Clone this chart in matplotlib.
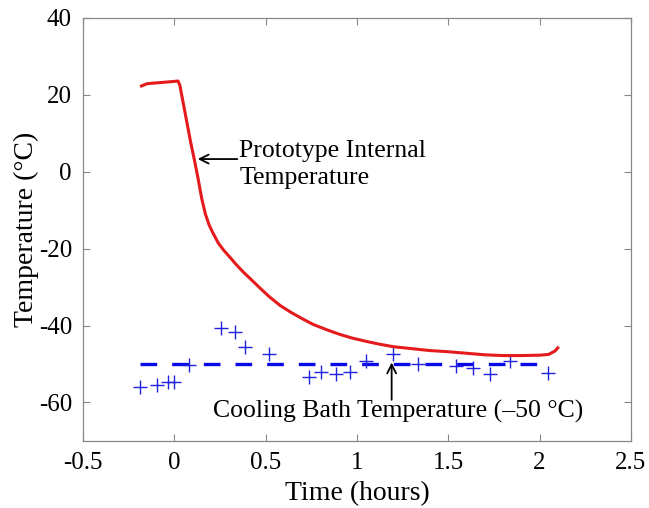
import matplotlib
matplotlib.use('Agg')
import numpy as np
import matplotlib.pyplot as plt

plt.rcParams['font.family'] = ['Liberation Serif', 'DejaVu Serif']
plt.rcParams['axes.unicode_minus'] = False

# prototype internal temperature (red curve)
t_proto = [-0.18, -0.15, -0.1, -0.05, 0.0, 0.02, 0.03, 0.05, 0.07, 0.09,
           0.11, 0.13, 0.15, 0.17, 0.19, 0.21, 0.24, 0.27, 0.30, 0.34,
           0.38, 0.42, 0.47, 0.52, 0.58, 0.64, 0.70, 0.76, 0.83, 0.90,
           0.97, 1.05, 1.13, 1.2, 1.3, 1.4, 1.5, 1.6, 1.7, 1.8,
           1.9, 2.0, 2.05, 2.085, 2.1]
temp_proto = [22.3, 22.9, 23.1, 23.3, 23.5, 23.6, 22.5, 17.5, 12.5, 7.5,
              3.0, -1.8, -7.0, -11.0, -13.8, -15.8, -18.5, -20.4, -22.0, -24.2,
              -26.2, -28.0, -30.3, -32.5, -34.8, -36.6, -38.2, -39.7, -41.0, -42.2,
              -43.2, -44.1, -44.9, -45.5, -46.0, -46.5, -46.8, -47.2, -47.6, -47.8,
              -47.8, -47.7, -47.5, -46.6, -45.8]

# measured bath temperature (blue plus markers)
t_bath = [-0.186, -0.095, -0.035, -0.002, 0.08, 0.254, 0.33, 0.385, 0.518, 0.737,
          0.805, 0.887, 0.96, 1.05, 1.2, 1.335, 1.544, 1.635, 1.727, 1.836, 2.046]
temp_bath = [-56.0, -55.5, -54.6, -54.6, -50.3, -40.7, -41.6, -45.6, -47.3, -53.4,
             -52.0, -52.5, -52.0, -49.1, -47.3, -50.1, -50.5, -51.0, -52.5, -49.2, -52.3]

# bath setpoint (dashed line)
t_set = [-0.19, 2.05]
temp_set = [-50, -50]

fig = plt.figure(figsize=(6.49, 5.08), dpi=100)
ax = fig.add_axes([0.128, 0.132, 0.844, 0.8327])

ax.plot(t_set, temp_set, color='#0a0ae6', lw=2.4, dashes=(5, 4.5))
ax.plot(t_bath, temp_bath, '+', color='#2020e0', ms=10, mew=1.0)
ax.plot(t_proto, temp_proto, color='#e41a1c', lw=2.2)

ax.set_xlim(-0.5, 2.5)
ax.set_ylim(-70, 40)
ax.set_xticks(np.arange(-0.5, 2.51, 0.5))
ax.set_xticklabels(['-0.5', '0', '0.5', '1', '1.5', '2', '2.5'])
ax.set_yticks([-60, -40, -20, 0, 20, 40])

ax.tick_params(direction='in', top=True, right=True, length=5, width=0.8,
               color='#888888', labelsize=18, pad=8)
for s in ax.spines.values():
    s.set_color('#888888')
    s.set_linewidth(0.9)

ax.set_xlabel('Time (hours)', fontsize=20, labelpad=5)
ax.set_ylabel('Temperature (°C)', fontsize=20, labelpad=0)

# annotations
ax.annotate('', xy=(0.128, 3.3), xytext=(0.345, 3.3),
            arrowprops=dict(arrowstyle='->', color='black', lw=1.3,
                            mutation_scale=16, shrinkA=0, shrinkB=0))
ax.text(0.355, 2.0, 'Prototype Internal\nTemperature', fontsize=18.5,
        ha='left', va='center', linespacing=1.3)

ax.annotate('', xy=(1.19, -49.6), xytext=(1.19, -59.3),
            arrowprops=dict(arrowstyle='->', color='black', lw=1.3,
                            mutation_scale=16, shrinkA=0, shrinkB=0))
ax.text(1.223, -62.3, 'Cooling Bath Temperature (–50 °C)', fontsize=18.5,
        ha='center', va='center')

fig.savefig('out.png', dpi=100)
